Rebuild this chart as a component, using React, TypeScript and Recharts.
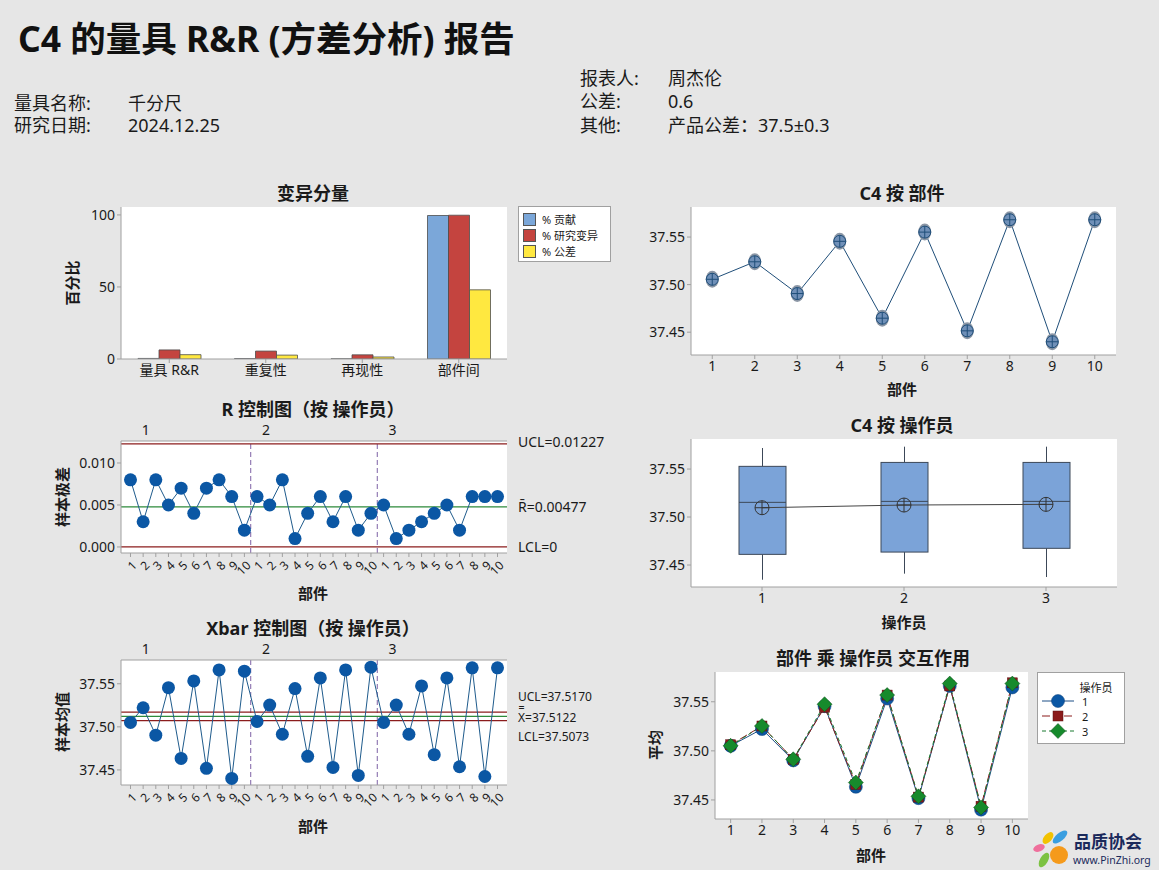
import { BarChart, Bar, LineChart, Line, ComposedChart, XAxis, YAxis, CartesianGrid, ReferenceLine, Legend } from 'recharts';

const FONT = "'Noto Sans', 'Noto Sans CJK SC', sans-serif";
const BG = '#e6e6e6';
const FRAME = '#a0a0a0';
const INK = '#1a1a1a';
const DOT_BLUE = '#0b57a4';
const LINE_BLUE = '#1f5b8c';
const LIMIT_RED = '#8b1c1c';
const CENTER_GREEN = '#2d8a3a';

// 变异分量
const components = ['量具 R&R', '重复性', '再现性', '部件间'];
const pctContribution = [0.4, 0.3, 0.1, 99.6];
const pctStudyVar = [6.3, 5.5, 2.9, 99.8];
const pctTolerance = [3.0, 2.7, 1.4, 48.0];

// C4 按 部件
const parts = [1, 2, 3, 4, 5, 6, 7, 8, 9, 10];
const partMeans = [37.5056, 37.524, 37.4906, 37.5455, 37.4647, 37.5552, 37.4514, 37.5682, 37.4399, 37.5682];

// R 控制图（按 操作员）
const rangeOp1 = [0.008, 0.003, 0.008, 0.005, 0.007, 0.004, 0.007, 0.008, 0.006, 0.002];
const rangeOp2 = [0.006, 0.005, 0.008, 0.001, 0.004, 0.006, 0.003, 0.006, 0.002, 0.004];
const rangeOp3 = [0.005, 0.001, 0.002, 0.003, 0.004, 0.005, 0.002, 0.006, 0.006, 0.006];
const rUCL = 0.01227;
const rBar = 0.00477;
const rLCL = 0;

// Xbar 控制图（按 操作员）
const xbarOp1 = [37.5051, 37.5222, 37.4903, 37.5455, 37.4634, 37.5533, 37.4518, 37.5661, 37.4401, 37.5646];
const xbarOp2 = [37.5062, 37.5253, 37.4914, 37.5444, 37.4658, 37.5568, 37.4529, 37.5661, 37.4436, 37.5693];
const xbarOp3 = [37.5051, 37.5253, 37.4914, 37.5475, 37.4677, 37.5568, 37.4537, 37.5685, 37.4424, 37.5685];
const xUCL = 37.517;
const xBarBar = 37.5122;
const xLCL = 37.5073;

// C4 按 操作员
const operators = ['1', '2', '3'];
const boxMin = [37.4347, 37.441, 37.4375];
const boxQ1 = [37.4611, 37.4635, 37.4674];
const boxMedian = [37.5153, 37.5163, 37.5163];
const boxQ3 = [37.5528, 37.5569, 37.5569];
const boxMax = [37.5719, 37.5733, 37.5733];
const opMeans = [37.5097, 37.5125, 37.5132];

// operator group labels above the control charts (x position in sample units)
const opLabelAt = [2.2, 11.7, 21.7];
const sampleTicks = Array.from({ length: 30 }, (_, i) => i + 1);

const barData = components.map((name, i) => ({
  name,
  contribution: pctContribution[i],
  studyVar: pctStudyVar[i],
  tolerance: pctTolerance[i],
}));
const partData = parts.map((part, i) => ({ part, mean: partMeans[i] }));
const rData = [...rangeOp1, ...rangeOp2, ...rangeOp3].map((r, i) => ({ idx: i + 1, r }));
const xbarData = [...xbarOp1, ...xbarOp2, ...xbarOp3].map((m, i) => ({ idx: i + 1, m }));
const boxData = operators.map((op, i) => ({
  op, min: boxMin[i], q1: boxQ1[i], median: boxMedian[i], q3: boxQ3[i], max: boxMax[i], mean: opMeans[i],
}));
const interData = parts.map((part, i) => ({ part, op1: xbarOp1[i], op2: xbarOp2[i], op3: xbarOp3[i] }));

const tickStyle = { fontSize: 14, fill: INK, fontFamily: FONT };

const yTitle = (text: string, x: number, y: number) => () => (
  <text x={x} y={y} transform={`rotate(-90 ${x} ${y})`} textAnchor="middle" dominantBaseline="central"
    fontSize={15} fontWeight={700} fill={INK} fontFamily={FONT}>{text}</text>
);
const xTitle = (text: string, x: number, y: number) => () => (
  <text x={x} y={y} textAnchor="middle" dominantBaseline="central" fontSize={15} fontWeight={700} fill={INK} fontFamily={FONT}>{text}</text>
);

const Title = ({ text, cx, cy }: { text: string; cx: number; cy: number }) => (
  <div style={{ position: 'absolute', left: cx - 200, top: cy - 12, width: 400, textAlign: 'center', fontSize: 18, fontWeight: 700, lineHeight: '24px', color: INK }}>
    {text}
  </div>
);

const Info = ({ text, x, cy }: { text: string; x: number; cy: number }) => (
  <div style={{ position: 'absolute', left: x, top: cy - 12, fontSize: 18, lineHeight: '24px', color: INK, whiteSpace: 'nowrap' }}>{text}</div>
);

const PartTick = (p: any) => {
  const ax = p.x + 4;
  const ay = p.y + 4;
  return (
    <text x={ax} y={ay} textAnchor="end" dominantBaseline="central" transform={`rotate(-45 ${ax} ${ay})`}
      fontSize={12} fill={INK} fontFamily={FONT}>{((p.payload.value - 1) % 10) + 1}</text>
  );
};

const OpTick = (p: any) => (
  <text x={p.x} y={p.y - 6} textAnchor="middle" fontSize={14} fill={INK} fontFamily={FONT}>
    {operators[opLabelAt.indexOf(p.payload.value)]}
  </text>
);

const PartDot = (p: any) => {
  const { cx, cy, index } = p;
  if (cx == null || cy == null) return <g key={index} />;
  return (
    <g key={index}>
      <ellipse cx={cx} cy={cy} rx={6.5} ry={8.5} fill="#8b96a5" />
      <circle cx={cx} cy={cy} r={6} fill="#5f8cc4" fillOpacity={0.6} stroke="#1f4e79" strokeWidth={1} />
      <line x1={cx - 6} x2={cx + 6} y1={cy} y2={cy} stroke="#1f4e79" strokeWidth={1} />
      <line x1={cx} x2={cx} y1={cy - 6} y2={cy + 6} stroke="#1f4e79" strokeWidth={1} />
    </g>
  );
};

const MeanCross = (p: any) => {
  const { cx, cy, index } = p;
  if (cx == null || cy == null) return <g key={index} />;
  return (
    <g key={index}>
      <circle cx={cx} cy={cy} r={7} fill="none" stroke="#333" strokeWidth={1} />
      <line x1={cx - 7} x2={cx + 7} y1={cy} y2={cy} stroke="#333" strokeWidth={1} />
      <line x1={cx} x2={cx} y1={cy - 7} y2={cy + 7} stroke="#333" strokeWidth={1} />
    </g>
  );
};

const BoxShape = (p: any) => {
  const { x, y, width, height, payload } = p;
  const top = Math.min(y, y + height);
  const h = Math.abs(height);
  const { min, max, q1, q3, median } = payload;
  const sy = (v: number) => top + ((max - v) / (max - min)) * h;
  const cx = x + width / 2;
  const edge = '#3c4858';
  return (
    <g>
      <line x1={cx} x2={cx} y1={sy(max)} y2={sy(q3)} stroke={edge} />
      <line x1={cx} x2={cx} y1={sy(q1)} y2={sy(min)} stroke={edge} />
      <rect x={x} y={sy(q3)} width={width} height={sy(q1) - sy(q3)} fill="#7ba3d8" stroke={edge} />
      <line x1={x} x2={x + width} y1={sy(median)} y2={sy(median)} stroke={edge} />
    </g>
  );
};

const Circle = (color: string) => (p: any) =>
  p.cx == null ? <g key={p.index} /> : <circle key={p.index} cx={p.cx} cy={p.cy} r={6.5} fill={color} stroke="#0a3f78" strokeWidth={0.5} />;
const Square = (color: string) => (p: any) =>
  p.cx == null ? <g key={p.index} /> : <rect key={p.index} x={p.cx - 5} y={p.cy - 5} width={10} height={10} fill={color} stroke="#5a1010" strokeWidth={0.5} />;
const Diamond = (color: string) => (p: any) =>
  p.cx == null ? <g key={p.index} /> : (
    <polygon key={p.index} points={`${p.cx},${p.cy - 7.5} ${p.cx + 7.5},${p.cy} ${p.cx},${p.cy + 7.5} ${p.cx - 7.5},${p.cy}`}
      fill={color} stroke="#0d4d1a" strokeWidth={0.5} />
  );

const OP_COLORS = { op1: '#0b57a4', op2: '#8b1a1a', op3: '#168a2c' };
const OP_LINES = { op1: '#1d4f86', op2: '#8b1a1a', op3: '#1a7a30' };

const varLegend = [
  { label: '% 贡献', color: '#7ba7d9' },
  { label: '% 研究变异', color: '#c4443f' },
  { label: '% 公差', color: '#ffe840' },
];

const VarLegend = () => (
  <div style={{ width: 93, height: 56, boxSizing: 'border-box', background: '#fff', border: `1px solid ${FRAME}`, padding: '4px 0 0 4px', fontFamily: FONT, fontSize: 11, color: INK }}>
    {varLegend.map((it) => (
      <div key={it.label} style={{ display: 'flex', alignItems: 'center', height: 16 }}>
        <span style={{ width: 13, height: 13, boxSizing: 'border-box', background: it.color, border: '1px solid #555', marginRight: 6 }} />
        <span style={{ whiteSpace: 'nowrap' }}>{it.label}</span>
      </div>
    ))}
  </div>
);

const InterLegend = () => {
  const rows = [
    { key: 'op1', label: '1', dash: undefined, marker: Circle(OP_COLORS.op1) },
    { key: 'op2', label: '2', dash: '8 3', marker: Square(OP_COLORS.op2) },
    { key: 'op3', label: '3', dash: '4 3', marker: Diamond(OP_COLORS.op3) },
  ];
  return (
    <svg width={88} height={72} style={{ display: 'block' }}>
      <rect x={0.5} y={0.5} width={87} height={71} fill="#fff" stroke={FRAME} />
      <text x={59} y={15} textAnchor="middle" dominantBaseline="central" fontSize={11} fill={INK} fontFamily={FONT}>操作员</text>
      {rows.map((r, i) => {
        const y = 29 + i * 15;
        return (
          <g key={r.key}>
            <line x1={5} x2={37} y1={y} y2={y} stroke={OP_LINES[r.key as keyof typeof OP_LINES]} strokeDasharray={r.dash} />
            {r.marker({ cx: 21, cy: y, index: i })}
            <text x={45} y={y} dominantBaseline="central" fontSize={11} fill={INK} fontFamily={FONT}>{r.label}</text>
          </g>
        );
      })}
    </svg>
  );
};

const Logo = () => (
  <svg width={129} height={42} style={{ position: 'absolute', left: 1030, top: 828 }}>
    <ellipse cx={18} cy={10} rx={4} ry={7} fill="#f2c200" transform="rotate(40 18 10)" />
    <ellipse cx={30} cy={9} rx={4} ry={9} fill="#3a9ee0" transform="rotate(50 30 9)" />
    <ellipse cx={9} cy={20} rx={3.5} ry={6} fill="#ef6f9c" transform="rotate(70 9 20)" />
    <ellipse cx={14} cy={32} rx={4} ry={8} fill="#7cc242" transform="rotate(30 14 32)" />
    <circle cx={29} cy={27} r={9} fill="#f59a1b" />
    <text x={44} y={20} fontSize={17} fontWeight={700} fill="#1b2a5c" fontFamily={FONT}>品质协会</text>
    <text x={43} y={36} fontSize={10.5} fill="#1b2a5c" fontFamily={FONT}>www.PinZhi.org</text>
  </svg>
);

const limitLabel = (value: string, dy: number) => ({
  value, position: 'right' as const, offset: 11, fill: INK, fontSize: 12, fontFamily: FONT, dy,
});

export default function App() {
  return (
    <div style={{ position: 'relative', width: 1159, height: 870, background: BG, fontFamily: FONT, overflow: 'hidden' }}>
      <style>{`body{margin:0;background:${BG}}`}</style>

      <div style={{ position: 'absolute', left: 18, top: 17, fontSize: 35.5, fontWeight: 700, lineHeight: '42px', color: '#111', whiteSpace: 'nowrap' }}>
        C4 的量具 R&amp;R (方差分析) 报告
      </div>
      <Info text="量具名称:" x={14} cy={103} />
      <Info text="千分尺" x={128} cy={103} />
      <Info text="研究日期:" x={14} cy={125} />
      <Info text="2024.12.25" x={128} cy={125} />
      <Info text="报表人:" x={580} cy={78} />
      <Info text="周杰伦" x={668} cy={78} />
      <Info text="公差:" x={580} cy={101} />
      <Info text="0.6" x={668} cy={101} />
      <Info text="其他:" x={580} cy={125} />
      <Info text="产品公差：37.5±0.3" x={668} cy={125} />

      <Title text="变异分量" cx={313} cy={193} />
      <Title text="C4 按 部件" cx={902} cy={193} />
      <Title text="R 控制图（按 操作员）" cx={313} cy={409} />
      <Title text="C4 按 操作员" cx={902} cy={425} />
      <Title text="Xbar 控制图（按 操作员）" cx={313} cy={628} />
      <Title text="部件 乘 操作员 交互作用" cx={873} cy={658} />

      {/* 变异分量 */}
      <div style={{ position: 'absolute', left: 0, top: 200 }}>
        <BarChart width={620} height={190} data={barData} margin={{ top: 7, right: 113, bottom: 0, left: 0 }} barGap={0} barSize={21}>
          <CartesianGrid horizontal={false} vertical={false} fill="#fff" />
          <XAxis dataKey="name" interval={0} height={31} tickSize={4} tick={tickStyle} tickLine={{ stroke: FRAME }} axisLine={{ stroke: FRAME }} />
          <XAxis xAxisId="top" dataKey="name" orientation="top" height={0} tick={false} tickLine={false} axisLine={{ stroke: FRAME }} />
          <YAxis width={121} domain={[0, 105.5]} ticks={[0, 50, 100]} allowDataOverflow tickSize={4} tick={tickStyle}
            tickLine={{ stroke: FRAME }} axisLine={{ stroke: FRAME }} label={yTitle('百分比', 72, 83)} />
          <YAxis yAxisId="right" orientation="right" width={0} domain={[0, 1]} tick={false} tickLine={false} axisLine={{ stroke: FRAME }} />
          <Legend layout="vertical" align="center" verticalAlign="middle" wrapperStyle={{ left: 518, top: 6, width: 93 }} content={() => <VarLegend />} />
          <Bar dataKey="contribution" fill="#7ba7d9" stroke="#4d4d4d" strokeWidth={0.8} isAnimationActive={false} />
          <Bar dataKey="studyVar" fill="#c4443f" stroke="#4d4d4d" strokeWidth={0.8} isAnimationActive={false} />
          <Bar dataKey="tolerance" fill="#ffe840" stroke="#4d4d4d" strokeWidth={0.8} isAnimationActive={false} />
        </BarChart>
      </div>

      {/* C4 按 部件 */}
      <div style={{ position: 'absolute', left: 620, top: 200 }}>
        <LineChart width={539} height={200} data={partData} margin={{ top: 7, right: 43, bottom: 0, left: 0 }}>
          <CartesianGrid horizontal={false} vertical={false} fill="#fff" />
          <XAxis dataKey="part" type="number" domain={[0.5, 10.5]} ticks={parts} allowDataOverflow height={45} tickSize={4} tick={tickStyle}
            tickLine={{ stroke: FRAME }} axisLine={{ stroke: FRAME }} label={xTitle('部件', 282, 189)} />
          <XAxis xAxisId="top" type="number" dataKey="part" domain={[0.5, 10.5]} orientation="top" height={0} tick={false} tickLine={false} axisLine={{ stroke: FRAME }} />
          <YAxis width={71} domain={[37.426, 37.5816]} ticks={[37.45, 37.5, 37.55]} allowDataOverflow tickFormatter={(v: number) => v.toFixed(2)}
            tickSize={4} tick={tickStyle} tickLine={{ stroke: FRAME }} axisLine={{ stroke: FRAME }} />
          <YAxis yAxisId="right" orientation="right" width={0} domain={[0, 1]} tick={false} tickLine={false} axisLine={{ stroke: FRAME }} />
          <Line dataKey="mean" stroke="#1f4e79" strokeWidth={1} dot={PartDot} activeDot={false} isAnimationActive={false} />
        </LineChart>
      </div>

      {/* R 控制图 */}
      <div style={{ position: 'absolute', left: 0, top: 415 }}>
        <LineChart width={620} height={190} data={rData} margin={{ top: 6, right: 113, bottom: 0, left: 0 }}>
          <CartesianGrid horizontal={false} vertical={false} fill="#fff" />
          <XAxis dataKey="idx" type="number" domain={[0.25, 30.75]} ticks={sampleTicks} interval={0} allowDataOverflow height={52} tickSize={4}
            tick={PartTick} tickLine={{ stroke: FRAME }} axisLine={{ stroke: FRAME }} label={xTitle('部件', 313, 178)} />
          <XAxis xAxisId="top" dataKey="idx" type="number" domain={[0.25, 30.75]} ticks={opLabelAt} interval={0} orientation="top" height={20}
            tickSize={0} tickMargin={0} tick={OpTick} tickLine={false} axisLine={{ stroke: FRAME }} />
          <YAxis width={121} domain={[-0.00072, 0.01262]} ticks={[0, 0.005, 0.01]} allowDataOverflow tickFormatter={(v: number) => v.toFixed(3)}
            tickSize={4} tick={tickStyle} tickLine={{ stroke: FRAME }} axisLine={{ stroke: FRAME }} label={yTitle('样本极差', 62, 82)} />
          <YAxis yAxisId="right" orientation="right" width={0} domain={[0, 1]} tick={false} tickLine={false} axisLine={{ stroke: FRAME }} />
          <ReferenceLine x={10.5} stroke="#7e62a6" strokeDasharray="5 3" />
          <ReferenceLine x={20.5} stroke="#7e62a6" strokeDasharray="5 3" />
          <ReferenceLine y={rUCL} stroke={LIMIT_RED} strokeWidth={1.2}
            label={{ value: `UCL=${rUCL}`, position: 'right', offset: 11, fill: INK, fontSize: 14, fontFamily: FONT, dy: -2 }} />
          <ReferenceLine y={rBar} stroke={CENTER_GREEN} strokeWidth={1.2}
            label={{ value: `R\u0304=${rBar}`, position: 'right', offset: 11, fill: INK, fontSize: 14, fontFamily: FONT }} />
          <ReferenceLine y={rLCL} stroke={LIMIT_RED} strokeWidth={1.2}
            label={{ value: `LCL=${rLCL}`, position: 'right', offset: 11, fill: INK, fontSize: 14, fontFamily: FONT }} />
          <Line dataKey="r" stroke={LINE_BLUE} strokeWidth={1} dot={{ r: 6.5, fill: DOT_BLUE, stroke: DOT_BLUE, strokeWidth: 0 }}
            activeDot={false} isAnimationActive={false} />
        </LineChart>
      </div>

      {/* Xbar 控制图 */}
      <div style={{ position: 'absolute', left: 0, top: 635 }}>
        <LineChart width={620} height={210} data={xbarData} margin={{ top: 5, right: 113, bottom: 0, left: 0 }}>
          <CartesianGrid horizontal={false} vertical={false} fill="#fff" />
          <XAxis dataKey="idx" type="number" domain={[0.25, 30.75]} ticks={sampleTicks} interval={0} allowDataOverflow height={60} tickSize={4}
            tick={PartTick} tickLine={{ stroke: FRAME }} axisLine={{ stroke: FRAME }} label={xTitle('部件', 313, 191)} />
          <XAxis xAxisId="top" dataKey="idx" type="number" domain={[0.25, 30.75]} ticks={opLabelAt} interval={0} orientation="top" height={20}
            tickSize={0} tickMargin={0} tick={OpTick} tickLine={false} axisLine={{ stroke: FRAME }} />
          <YAxis width={121} domain={[37.4325, 37.5776]} ticks={[37.45, 37.5, 37.55]} allowDataOverflow tickFormatter={(v: number) => v.toFixed(2)}
            tickSize={4} tick={tickStyle} tickLine={{ stroke: FRAME }} axisLine={{ stroke: FRAME }} label={yTitle('样本均值', 62, 87)} />
          <YAxis yAxisId="right" orientation="right" width={0} domain={[0, 1]} tick={false} tickLine={false} axisLine={{ stroke: FRAME }} />
          <ReferenceLine x={10.5} stroke="#7e62a6" strokeDasharray="5 3" />
          <ReferenceLine x={20.5} stroke="#7e62a6" strokeDasharray="5 3" />
          <ReferenceLine y={xUCL} stroke={LIMIT_RED} strokeWidth={1.2} label={limitLabel(`UCL=${xUCL.toFixed(4)}`, -15)} />
          <ReferenceLine y={xBarBar} stroke={CENTER_GREEN} strokeWidth={1.2} label={limitLabel(`X\u033F=${xBarBar.toFixed(4)}`, 1)} />
          <ReferenceLine y={xLCL} stroke={LIMIT_RED} strokeWidth={1.2} label={limitLabel(`LCL=${xLCL.toFixed(4)}`, 16)} />
          <Line dataKey="m" stroke={LINE_BLUE} strokeWidth={1} dot={{ r: 6.5, fill: DOT_BLUE, stroke: DOT_BLUE, strokeWidth: 0 }}
            activeDot={false} isAnimationActive={false} />
        </LineChart>
      </div>

      {/* C4 按 操作员 */}
      <div style={{ position: 'absolute', left: 620, top: 415 }}>
        <ComposedChart width={539} height={225} data={boxData} margin={{ top: 24, right: 42, bottom: 0, left: 0 }}>
          <CartesianGrid horizontal={false} vertical={false} fill="#fff" />
          <XAxis dataKey="op" height={53} tickSize={4} tick={tickStyle} tickLine={{ stroke: FRAME }} axisLine={{ stroke: FRAME }}
            label={xTitle('操作员', 284, 207)} />
          <XAxis xAxisId="top" dataKey="op" orientation="top" height={0} tick={false} tickLine={false} axisLine={{ stroke: FRAME }} />
          <YAxis width={71} domain={[37.4271, 37.5813]} ticks={[37.45, 37.5, 37.55]} allowDataOverflow tickFormatter={(v: number) => v.toFixed(2)}
            tickSize={4} tick={tickStyle} tickLine={{ stroke: FRAME }} axisLine={{ stroke: FRAME }} />
          <YAxis yAxisId="right" orientation="right" width={0} domain={[0, 1]} tick={false} tickLine={false} axisLine={{ stroke: FRAME }} />
          <Bar dataKey={(d: any) => [d.min, d.max]} barSize={47} shape={BoxShape} isAnimationActive={false} />
          <Line dataKey="mean" stroke="#444" strokeWidth={1} dot={MeanCross} activeDot={false} isAnimationActive={false} />
        </ComposedChart>
      </div>

      {/* 部件 乘 操作员 交互作用 */}
      <div style={{ position: 'absolute', left: 620, top: 640 }}>
        <LineChart width={539} height={230} data={interData} margin={{ top: 32, right: 131, bottom: 0, left: 0 }}>
          <CartesianGrid horizontal={false} vertical={false} fill="#fff" />
          <XAxis dataKey="part" type="number" domain={[0.5, 10.5]} ticks={parts} allowDataOverflow height={51} tickSize={4} tick={tickStyle}
            tickLine={{ stroke: FRAME }} axisLine={{ stroke: FRAME }} label={xTitle('部件', 251, 215)} />
          <XAxis xAxisId="top" type="number" dataKey="part" domain={[0.5, 10.5]} orientation="top" height={0} tick={false} tickLine={false} axisLine={{ stroke: FRAME }} />
          <YAxis width={95} domain={[37.4306, 37.5803]} ticks={[37.45, 37.5, 37.55]} allowDataOverflow tickFormatter={(v: number) => v.toFixed(2)}
            tickSize={4} tick={tickStyle} tickLine={{ stroke: FRAME }} axisLine={{ stroke: FRAME }} label={yTitle('平均', 35, 105)} />
          <YAxis yAxisId="right" orientation="right" width={0} domain={[0, 1]} tick={false} tickLine={false} axisLine={{ stroke: FRAME }} />
          <Legend layout="vertical" align="center" verticalAlign="middle" wrapperStyle={{ left: 417, top: 32, width: 88 }} content={() => <InterLegend />} />
          <Line dataKey="op1" stroke={OP_LINES.op1} strokeWidth={1} dot={Circle(OP_COLORS.op1)} activeDot={false} isAnimationActive={false} />
          <Line dataKey="op2" stroke={OP_LINES.op2} strokeWidth={1} strokeDasharray="8 3" dot={Square(OP_COLORS.op2)} activeDot={false} isAnimationActive={false} />
          <Line dataKey="op3" stroke={OP_LINES.op3} strokeWidth={1} strokeDasharray="4 3" dot={Diamond(OP_COLORS.op3)} activeDot={false} isAnimationActive={false} />
        </LineChart>
      </div>

      <Logo />
    </div>
  );
}
